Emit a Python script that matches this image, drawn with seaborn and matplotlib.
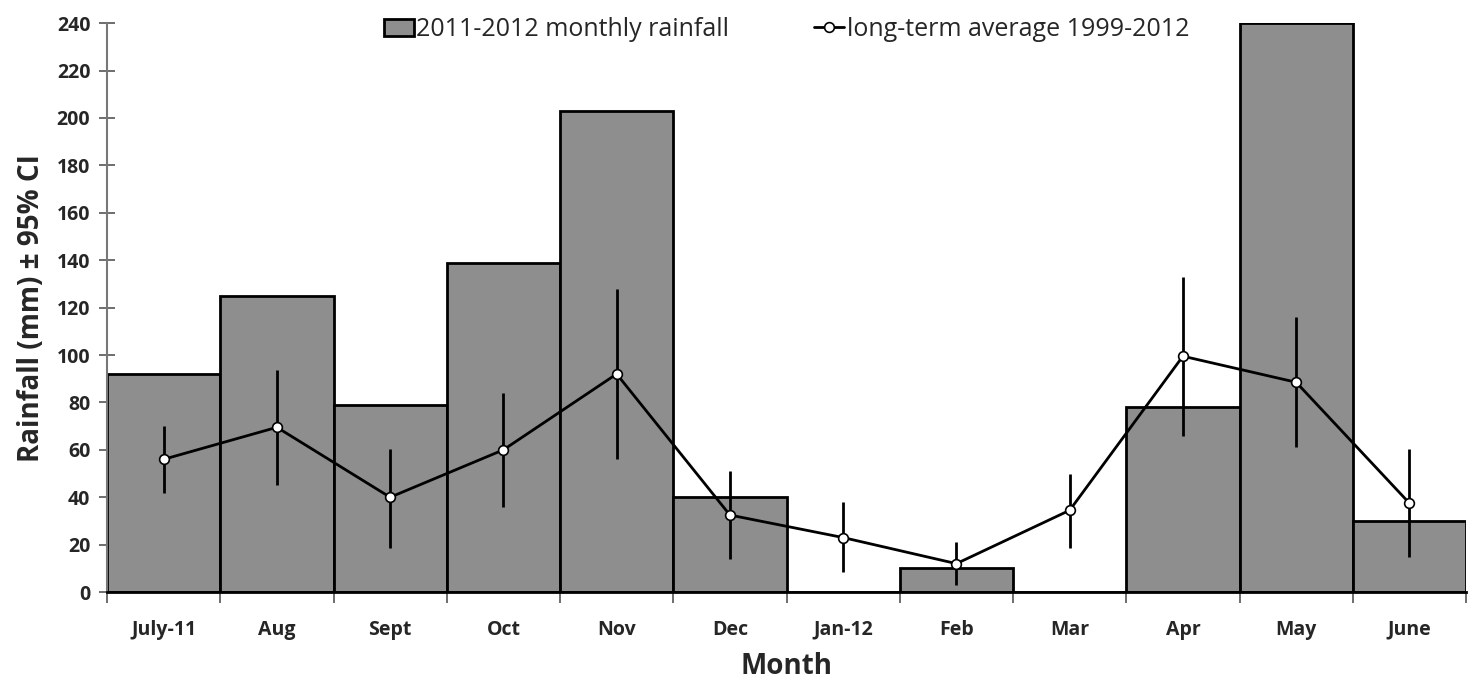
import numpy as np
import pandas as pd
import matplotlib
matplotlib.use("Agg")
import matplotlib.pyplot as plt
import seaborn as sns

months = ["July-11", "Aug", "Sept", "Oct", "Nov", "Dec", "Jan-12", "Feb", "Mar", "Apr", "May", "June"]
rain_2011_12 = [92, 125, 79, 139, 203, 40, 0, 10, 0, 78, 240, 30]
longterm_avg = [56, 69.5, 40, 60, 92, 32.5, 23, 12, 34.5, 99.5, 88.5, 37.5]
ci_low = [42, 45, 18.5, 36, 56, 14, 8.5, 3, 18.5, 66, 61, 15]
ci_high = [70, 93.5, 60.5, 84, 128, 51, 38, 21, 50, 133, 116, 60.5]

df = pd.DataFrame({"Month": months, "Rain": rain_2011_12, "Avg": longterm_avg,
                   "lo": ci_low, "hi": ci_high})
df["pos"] = np.arange(len(df))

sns.set_style("white")
plt.rcParams["font.family"] = ["Open Sans", "DejaVu Sans"]

fig = plt.figure(figsize=(14.74, 6.79), dpi=100)
ax = fig.add_axes([0.0726, 0.128, 0.922, 0.838])

sns.barplot(data=df, x="Month", y="Rain", color="#8e8e8e", saturation=1, width=1.0,
            edgecolor="black", linewidth=2, ax=ax, label="2011-2012 monthly rainfall")

yerr = [df["Avg"] - df["lo"], df["hi"] - df["Avg"]]
ax.errorbar(df["pos"], df["Avg"], yerr=yerr, fmt="none", ecolor="black", elinewidth=2, capsize=0, zorder=3)
sns.lineplot(x=df["pos"], y=df["Avg"], color="black", linewidth=2, marker="o", markersize=7,
             markerfacecolor="white", markeredgecolor="black", markeredgewidth=1.2,
             ax=ax, zorder=4, label="long-term average 1999-2012")

ax.set_xlim(-0.5, 11.5)
ax.set_ylim(0, 240)
ax.set_yticks(range(0, 241, 20))
ax.set_xticks(range(12))
ax.set_xticklabels(months)
ax.set_xticks(np.arange(-0.5, 12, 1), minor=True)
ax.tick_params(axis="x", which="both", bottom=True)
ax.tick_params(axis="y", left=True)
ax.tick_params(axis="x", which="major", length=0, pad=20, labelsize=14)
ax.tick_params(axis="x", which="minor", length=8, width=1.2, color="#555555", direction="out")
ax.tick_params(axis="y", length=12, width=1.2, color="#555555", direction="inout", labelsize=14, pad=6)
for lab in ax.get_xticklabels() + ax.get_yticklabels():
    lab.set_fontweight("bold")

for s in ["top", "right"]:
    ax.spines[s].set_visible(False)
ax.spines["left"].set_color("#777777")
ax.spines["left"].set_linewidth(1.5)
ax.spines["bottom"].set_color("black")
ax.spines["bottom"].set_linewidth(2)

ax.set_xlabel("Month", fontsize=20, fontweight="bold", labelpad=9)
ax.set_ylabel("Rainfall (mm) ± 95% CI", fontsize=20, fontweight="bold", labelpad=8)

handles, labels = ax.get_legend_handles_labels()
order = [labels.index("2011-2012 monthly rainfall"), labels.index("long-term average 1999-2012")]
ax.legend([handles[i] for i in order], [labels[i] for i in order],
          loc="upper center", bbox_to_anchor=(0.5, 1.05), ncol=2, frameon=False,
          fontsize=18, handlelength=1.2, handletextpad=0.1, columnspacing=3.4)

fig.savefig("out.png", dpi=100)
